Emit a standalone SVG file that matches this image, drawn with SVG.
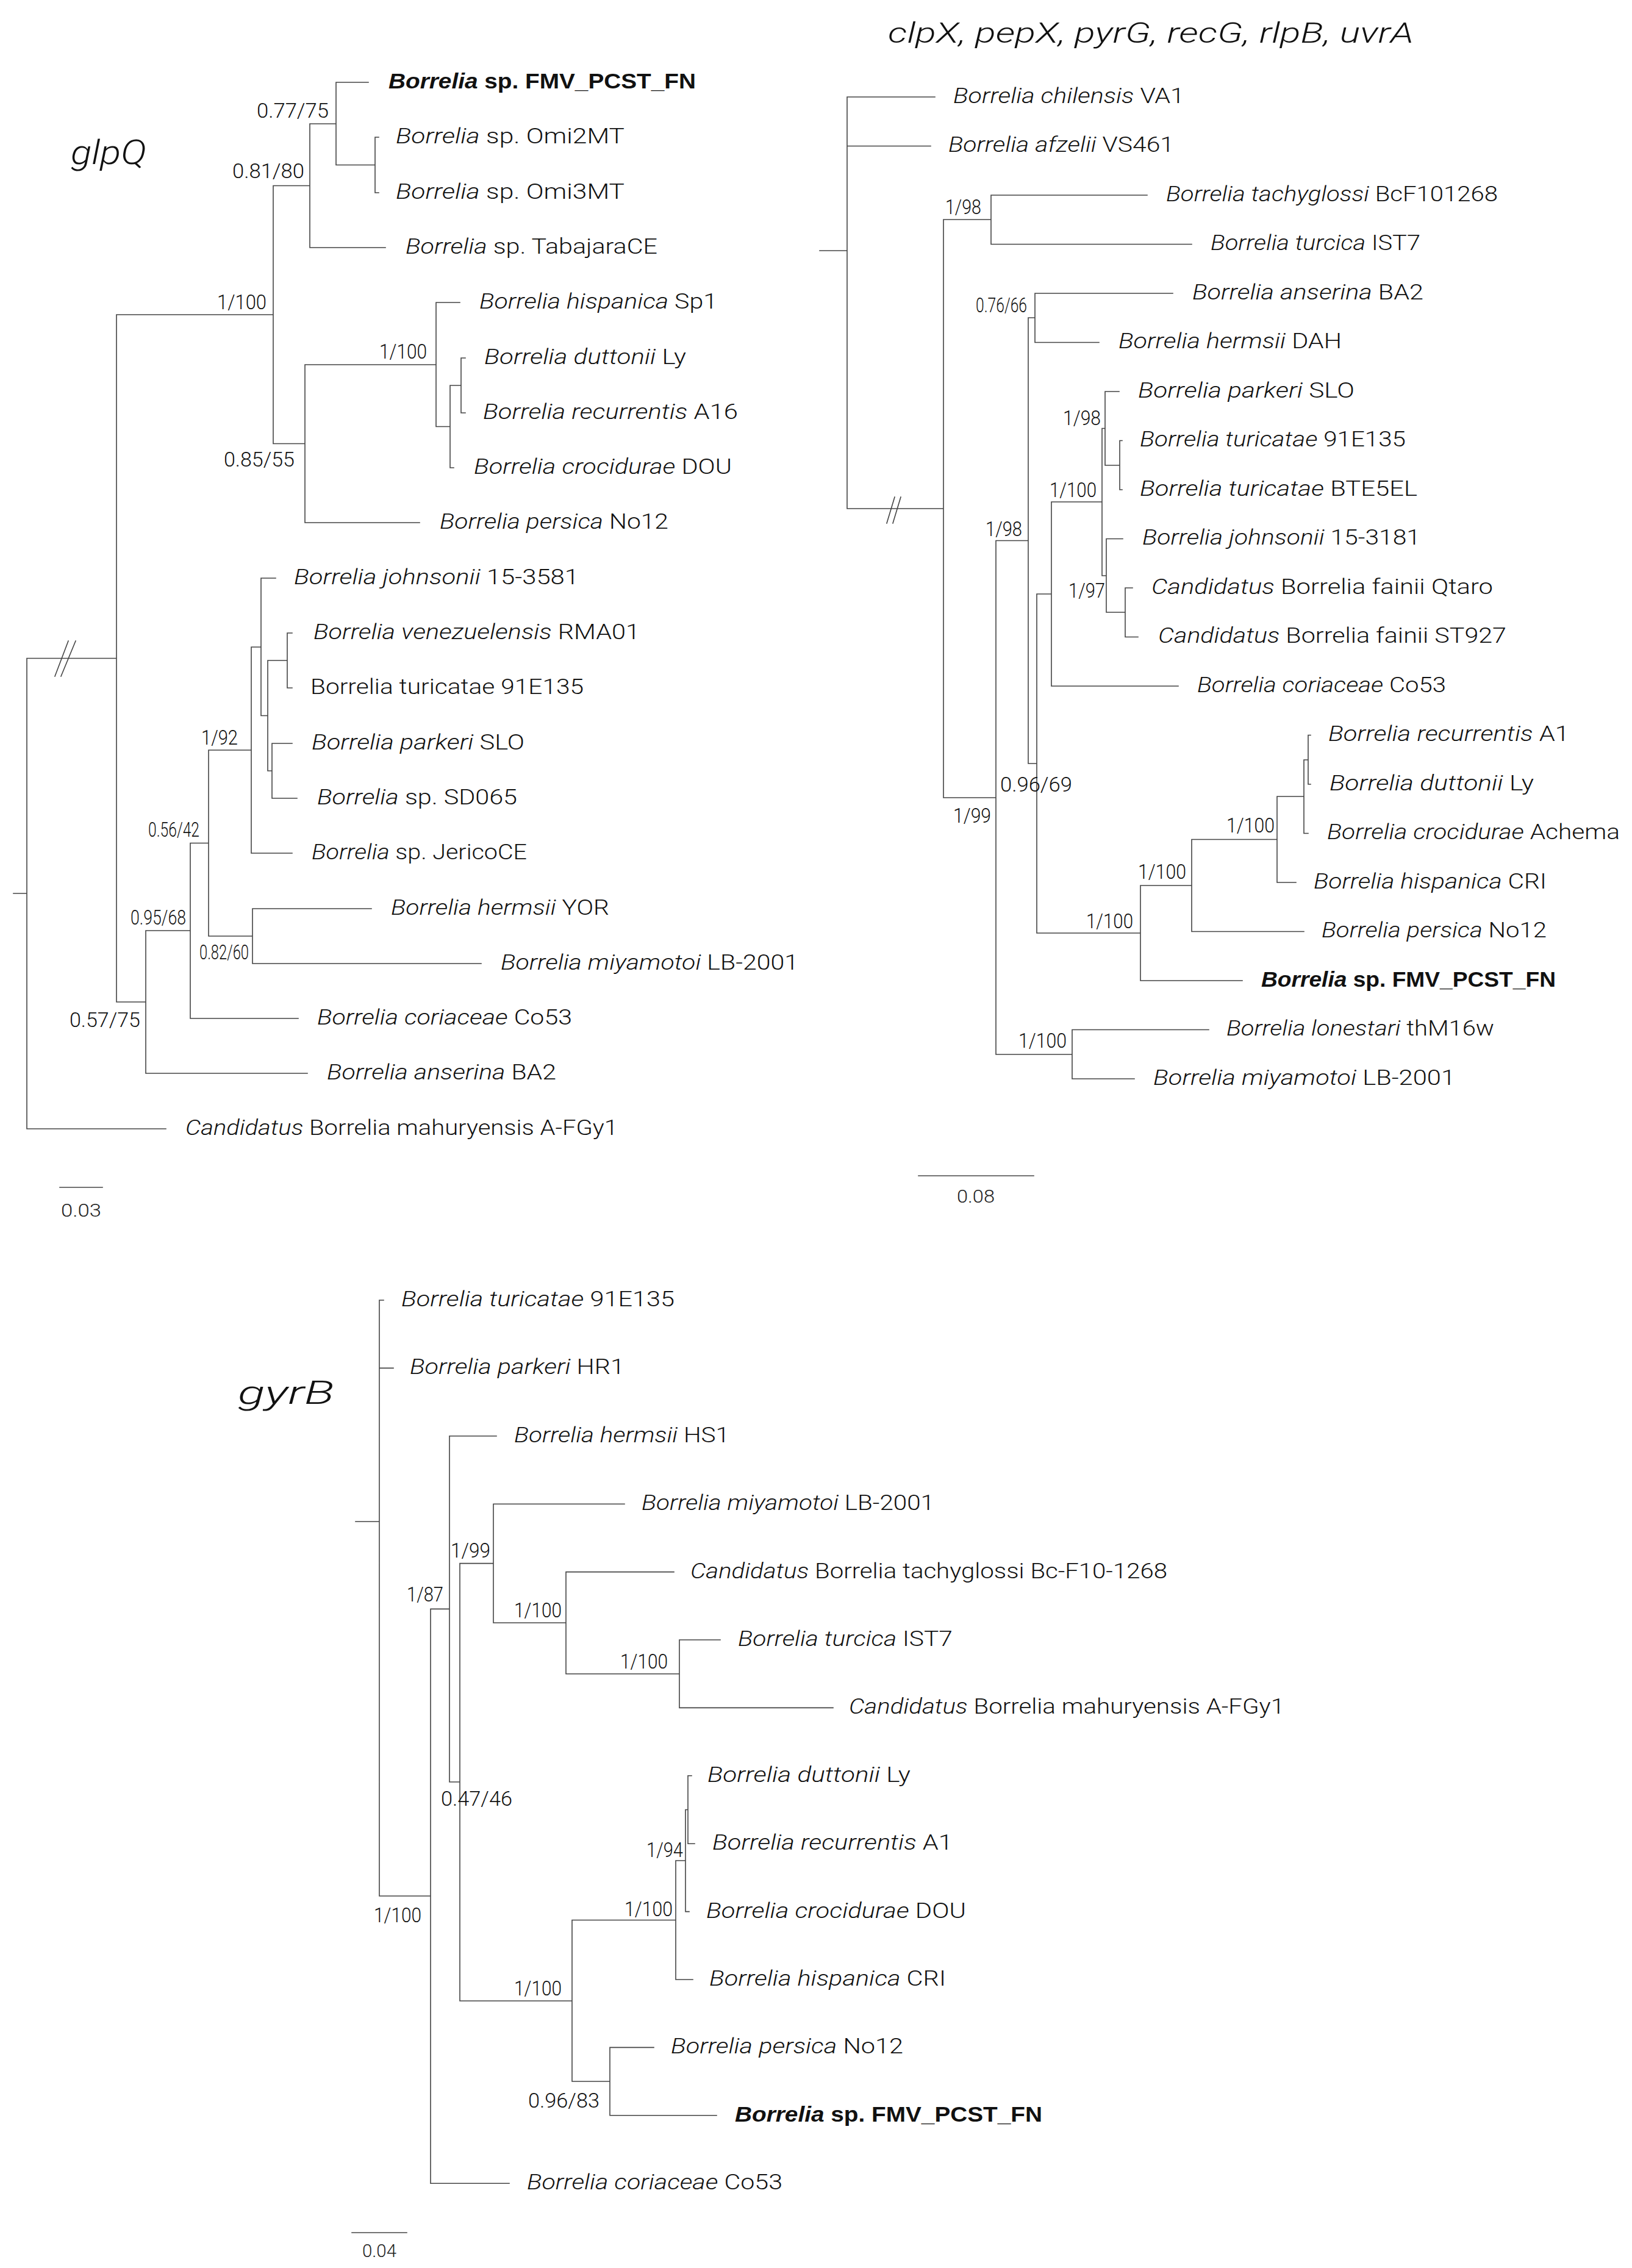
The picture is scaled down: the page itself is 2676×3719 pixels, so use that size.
<svg xmlns="http://www.w3.org/2000/svg" width="2676" height="3719" viewBox="0 0 2676 3719">
<style>
text{font-family:Roboto,"Liberation Sans",Arial,sans-serif;font-weight:300;fill:#111}
.l{font-size:35px}
.i{font-style:italic}
.b{font-family:"Liberation Sans",Arial,sans-serif;font-weight:bold}
.s{font-size:33px;fill:#222}
.k{font-size:30px;fill:#222}
.t{font-style:italic}
.br{fill:none;stroke:#444;stroke-width:1.6;stroke-linecap:square}
</style>
<rect width="2676" height="3719" fill="#fff"/>
<g id="connectors" class="br">
<path id="glpQ-branches" d="M22 1465H44M44 1079.5V1851M44 1851H272M44 1079.5H191M191 516V1643M191 516H448M448 304.5V727.5M448 304.5H508M508 203V406M508 406H632M508 203H551M551 135V270.5M551 135H604M551 270.5H615M615 225V316M615 225H621M615 316H621M448 727.5H500M500 598V857M500 857H688M500 598H715M715 496V699.5M715 496H754M715 699.5H738M738 632V767M738 767H744M738 632H756M756 587V677M756 587H763M756 677H763M191 1643H239M239 1526V1760M239 1760H504M239 1526H312M312 1382.5V1670M312 1670H489M312 1382.5H342M342 1230V1535M342 1535H414M414 1490V1580M414 1490H609M414 1580H789M342 1230H412M412 1061V1399M412 1399H479M412 1061H428M428 948V1173.5M428 948H452M428 1173.5H439M439 1083V1264M439 1083H471M471 1038V1128M471 1038H479M471 1128H479M439 1264H446M446 1219V1309M446 1219H479M446 1309H487"/>
<path id="glpQ-break" d="M90 1109L112 1051M100 1109L124 1051"/>
<path id="glpQ-scale" d="M98 1947H168"/>
<path id="multi-branches" d="M1344 411H1389M1389 159V834M1389 159H1533M1389 239.5H1526M1389 834H1547M1547 360V1308M1547 360H1625M1625 320V400.5M1625 320H1881M1625 400.5H1954M1547 1308H1633M1633 886.5V1729M1633 886.5H1686M1686 521V1252M1686 521H1697M1697 481V561.5M1697 481H1923M1697 561.5H1802M1686 1252H1700M1700 974V1530M1700 974H1724M1724 823V1125M1724 1125H1932M1724 823H1807M1807 702.5V944M1807 702.5H1812M1812 642V763M1812 642H1835M1812 763H1836M1836 722.5V803M1836 722.5H1840M1836 803H1840M1807 944H1814M1814 883.5V1004M1814 883.5H1841M1814 1004H1845M1845 964V1044.5M1845 964H1857M1845 1044.5H1866M1700 1530H1870M1870 1452V1608M1870 1608H2037M1870 1452H1954M1954 1376.5V1527.5M1954 1527.5H2138M1954 1376.5H2094M2094 1306V1447M2094 1447H2125M2094 1306H2138M2138 1246V1366.5M2138 1366.5H2145M2138 1246H2145M2145 1205.5V1286M2145 1205.5H2149M2145 1286H2149M1633 1729H1758M1758 1688.5V1769M1758 1688.5H1982M1758 1769H1860"/>
<path id="multi-break" d="M1454 858L1467 815M1464 858L1477 815"/>
<path id="multi-scale" d="M1506 1928H1695"/>
<path id="gyrB-branches" d="M583 2495H622M622 2132V3109M622 2132H629M622 2243.4H645M622 3109H706M706 2638.4V3580.2M706 3580.2H835M706 2638.4H737M737 2354.8V2922M737 2354.8H814M737 2922H754M754 2563.6V3281M754 2563.6H809M809 2466.2V2661M809 2466.2H1024M809 2661H928M928 2577.6V2744.7M928 2577.6H1105M928 2744.7H1114M1114 2689V2800.4M1114 2689H1181M1114 2800.4H1366M754 3281H938M938 3148.5V3413M938 3148.5H1108M1108 3051V3246M1108 3246H1136M1108 3051H1124M1124 2967.5V3134.6M1124 3134.6H1130M1124 2967.5H1128M1128 2911.8V3023.2M1128 2911.8H1134M1128 3023.2H1139M938 3413H1000M1000 3357.4V3468.8M1000 3357.4H1072M1000 3468.8H1175"/>
<path id="gyrB-scale" d="M577 3661H667"/>
</g>

<g id="titles">
<text class="t" x="116" y="269" font-size="55" textLength="124" lengthAdjust="spacingAndGlyphs">glpQ</text>
<text class="t" x="1456" y="70" font-size="47" textLength="862" lengthAdjust="spacingAndGlyphs">clpX, pepX, pyrG, recG, rlpB, uvrA</text>
<text class="t" x="390" y="2302" font-size="54" textLength="158" lengthAdjust="spacingAndGlyphs">gyrB</text>
</g>

<g id="glpQ-leaves" class="l">
<g id="g1"><text x="637" y="145" textLength="504" lengthAdjust="spacingAndGlyphs" class="b"><tspan class="i">Borrelia</tspan> sp. FMV_PCST_FN</text></g>
<g id="g2"><text x="649" y="235" textLength="375" lengthAdjust="spacingAndGlyphs"><tspan class="i">Borrelia</tspan> sp. Omi2MT</text></g>
<g id="g3"><text x="649" y="326" textLength="375" lengthAdjust="spacingAndGlyphs"><tspan class="i">Borrelia</tspan> sp. Omi3MT</text></g>
<g id="g4"><text x="665" y="416" textLength="413" lengthAdjust="spacingAndGlyphs"><tspan class="i">Borrelia</tspan> sp. TabajaraCE</text></g>
<g id="g5"><text x="786" y="506" textLength="390" lengthAdjust="spacingAndGlyphs"><tspan class="i">Borrelia hispanica</tspan> Sp1</text></g>
<g id="g6"><text x="794" y="597" textLength="331" lengthAdjust="spacingAndGlyphs"><tspan class="i">Borrelia duttonii</tspan> Ly</text></g>
<g id="g7"><text x="792" y="687" textLength="418" lengthAdjust="spacingAndGlyphs"><tspan class="i">Borrelia recurrentis</tspan> A16</text></g>
<g id="g8"><text x="777" y="777" textLength="423" lengthAdjust="spacingAndGlyphs"><tspan class="i">Borrelia crocidurae</tspan> DOU</text></g>
<g id="g9"><text x="721" y="867" textLength="375" lengthAdjust="spacingAndGlyphs"><tspan class="i">Borrelia persica</tspan> No12</text></g>
<g id="g10"><text x="482" y="958" textLength="467" lengthAdjust="spacingAndGlyphs"><tspan class="i">Borrelia johnsonii</tspan> 15-3581</text></g>
<g id="g11"><text x="514" y="1048" textLength="535" lengthAdjust="spacingAndGlyphs"><tspan class="i">Borrelia venezuelensis</tspan> RMA01</text></g>
<g id="g12"><text x="509" y="1138" textLength="448" lengthAdjust="spacingAndGlyphs">Borrelia turicatae 91E135</text></g>
<g id="g13"><text x="511" y="1229" textLength="349" lengthAdjust="spacingAndGlyphs"><tspan class="i">Borrelia parkeri</tspan> SLO</text></g>
<g id="g14"><text x="520" y="1319" textLength="328" lengthAdjust="spacingAndGlyphs"><tspan class="i">Borrelia</tspan> sp. SD065</text></g>
<g id="g15"><text x="511" y="1409" textLength="353" lengthAdjust="spacingAndGlyphs"><tspan class="i">Borrelia</tspan> sp. JericoCE</text></g>
<g id="g16"><text x="641" y="1500" textLength="358" lengthAdjust="spacingAndGlyphs"><tspan class="i">Borrelia hermsii</tspan> YOR</text></g>
<g id="g17"><text x="821" y="1590" textLength="488" lengthAdjust="spacingAndGlyphs"><tspan class="i">Borrelia miyamotoi</tspan> LB-2001</text></g>
<g id="g18"><text x="520" y="1680" textLength="418" lengthAdjust="spacingAndGlyphs"><tspan class="i">Borrelia coriaceae</tspan> Co53</text></g>
<g id="g19"><text x="536" y="1770" textLength="376" lengthAdjust="spacingAndGlyphs"><tspan class="i">Borrelia anserina</tspan> BA2</text></g>
<g id="g20"><text x="304" y="1861" textLength="709" lengthAdjust="spacingAndGlyphs"><tspan class="i">Candidatus</tspan> Borrelia mahuryensis A-FGy1</text></g>
</g>

<g id="glpQ-support" class="s">
<text x="421" y="193" textLength="118" lengthAdjust="spacingAndGlyphs">0.77/75</text>
<text x="381" y="292" textLength="118" lengthAdjust="spacingAndGlyphs">0.81/80</text>
<text x="356" y="507" textLength="81" lengthAdjust="spacingAndGlyphs">1/100</text>
<text x="622" y="588" textLength="78" lengthAdjust="spacingAndGlyphs">1/100</text>
<text x="367" y="765" textLength="116" lengthAdjust="spacingAndGlyphs">0.85/55</text>
<text x="330" y="1221" textLength="60" lengthAdjust="spacingAndGlyphs">1/92</text>
<text x="243" y="1372" textLength="84" lengthAdjust="spacingAndGlyphs">0.56/42</text>
<text x="214" y="1516" textLength="91" lengthAdjust="spacingAndGlyphs">0.95/68</text>
<text x="327" y="1573" textLength="81" lengthAdjust="spacingAndGlyphs">0.82/60</text>
<text x="114" y="1684" textLength="116" lengthAdjust="spacingAndGlyphs">0.57/75</text>
<text class="k" x="100" y="1995" textLength="66" lengthAdjust="spacingAndGlyphs">0.03</text>
</g>

<g id="multi-leaves" class="l">
<g id="m1"><text x="1563" y="169" textLength="379" lengthAdjust="spacingAndGlyphs"><tspan class="i">Borrelia chilensis</tspan> VA1</text></g>
<g id="m2"><text x="1555" y="249" textLength="370" lengthAdjust="spacingAndGlyphs"><tspan class="i">Borrelia afzelii</tspan> VS461</text></g>
<g id="m3"><text x="1912" y="330" textLength="544" lengthAdjust="spacingAndGlyphs"><tspan class="i">Borrelia tachyglossi</tspan> BcF101268</text></g>
<g id="m4"><text x="1985" y="410" textLength="344" lengthAdjust="spacingAndGlyphs"><tspan class="i">Borrelia turcica</tspan> IST7</text></g>
<g id="m5"><text x="1955" y="491" textLength="379" lengthAdjust="spacingAndGlyphs"><tspan class="i">Borrelia anserina</tspan> BA2</text></g>
<g id="m6"><text x="1834" y="571" textLength="366" lengthAdjust="spacingAndGlyphs"><tspan class="i">Borrelia hermsii</tspan> DAH</text></g>
<g id="m7"><text x="1866" y="652" textLength="355" lengthAdjust="spacingAndGlyphs"><tspan class="i">Borrelia parkeri</tspan> SLO</text></g>
<g id="m8"><text x="1869" y="732" textLength="436" lengthAdjust="spacingAndGlyphs"><tspan class="i">Borrelia turicatae</tspan> 91E135</text></g>
<g id="m9"><text x="1869" y="813" textLength="455" lengthAdjust="spacingAndGlyphs"><tspan class="i">Borrelia turicatae</tspan> BTE5EL</text></g>
<g id="m10"><text x="1873" y="893" textLength="456" lengthAdjust="spacingAndGlyphs"><tspan class="i">Borrelia johnsonii</tspan> 15-3181</text></g>
<g id="m11"><text x="1888" y="974" textLength="560" lengthAdjust="spacingAndGlyphs"><tspan class="i">Candidatus</tspan> Borrelia fainii Qtaro</text></g>
<g id="m12"><text x="1899" y="1054" textLength="571" lengthAdjust="spacingAndGlyphs"><tspan class="i">Candidatus</tspan> Borrelia fainii ST927</text></g>
<g id="m13"><text x="1963" y="1135" textLength="408" lengthAdjust="spacingAndGlyphs"><tspan class="i">Borrelia coriaceae</tspan> Co53</text></g>
<g id="m14"><text x="2178" y="1215" textLength="395" lengthAdjust="spacingAndGlyphs"><tspan class="i">Borrelia recurrentis</tspan> A1</text></g>
<g id="m15"><text x="2180" y="1296" textLength="335" lengthAdjust="spacingAndGlyphs"><tspan class="i">Borrelia duttonii</tspan> Ly</text></g>
<g id="m16"><text x="2176" y="1376" textLength="480" lengthAdjust="spacingAndGlyphs"><tspan class="i">Borrelia crocidurae</tspan> Achema</text></g>
<g id="m17"><text x="2154" y="1457" textLength="382" lengthAdjust="spacingAndGlyphs"><tspan class="i">Borrelia hispanica</tspan> CRI</text></g>
<g id="m18"><text x="2167" y="1537" textLength="369" lengthAdjust="spacingAndGlyphs"><tspan class="i">Borrelia persica</tspan> No12</text></g>
<g id="m19"><text x="2068" y="1618" textLength="483" lengthAdjust="spacingAndGlyphs" class="b"><tspan class="i">Borrelia</tspan> sp. FMV_PCST_FN</text></g>
<g id="m20"><text x="2011" y="1698" textLength="439" lengthAdjust="spacingAndGlyphs"><tspan class="i">Borrelia lonestari</tspan> thM16w</text></g>
<g id="m21"><text x="1891" y="1779" textLength="495" lengthAdjust="spacingAndGlyphs"><tspan class="i">Borrelia miyamotoi</tspan> LB-2001</text></g>
</g>

<g id="multi-support" class="s">
<text x="1550" y="351" textLength="59" lengthAdjust="spacingAndGlyphs">1/98</text>
<text x="1600" y="512" textLength="84" lengthAdjust="spacingAndGlyphs">0.76/66</text>
<text x="1743" y="697" textLength="62" lengthAdjust="spacingAndGlyphs">1/98</text>
<text x="1721" y="815" textLength="77" lengthAdjust="spacingAndGlyphs">1/100</text>
<text x="1616" y="879" textLength="60" lengthAdjust="spacingAndGlyphs">1/98</text>
<text x="1752" y="980" textLength="60" lengthAdjust="spacingAndGlyphs">1/97</text>
<text x="1640" y="1298" textLength="118" lengthAdjust="spacingAndGlyphs">0.96/69</text>
<text x="1563" y="1349" textLength="62" lengthAdjust="spacingAndGlyphs">1/99</text>
<text x="2011" y="1365" textLength="79" lengthAdjust="spacingAndGlyphs">1/100</text>
<text x="1866" y="1441" textLength="79" lengthAdjust="spacingAndGlyphs">1/100</text>
<text x="1781" y="1522" textLength="77" lengthAdjust="spacingAndGlyphs">1/100</text>
<text x="1670" y="1718" textLength="79" lengthAdjust="spacingAndGlyphs">1/100</text>
<text class="k" x="1569" y="1972" textLength="62" lengthAdjust="spacingAndGlyphs">0.08</text>
</g>

<g id="gyrB-leaves" class="l">
<g id="y1"><text x="658" y="2142" textLength="448" lengthAdjust="spacingAndGlyphs"><tspan class="i">Borrelia turicatae</tspan> 91E135</text></g>
<g id="y2"><text x="672" y="2253" textLength="352" lengthAdjust="spacingAndGlyphs"><tspan class="i">Borrelia parkeri</tspan> HR1</text></g>
<g id="y3"><text x="843" y="2365" textLength="353" lengthAdjust="spacingAndGlyphs"><tspan class="i">Borrelia hermsii</tspan> HS1</text></g>
<g id="y4"><text x="1052" y="2476" textLength="480" lengthAdjust="spacingAndGlyphs"><tspan class="i">Borrelia miyamotoi</tspan> LB-2001</text></g>
<g id="y5"><text x="1132" y="2588" textLength="782" lengthAdjust="spacingAndGlyphs"><tspan class="i">Candidatus</tspan> Borrelia tachyglossi Bc-F10-1268</text></g>
<g id="y6"><text x="1210" y="2699" textLength="352" lengthAdjust="spacingAndGlyphs"><tspan class="i">Borrelia turcica</tspan> IST7</text></g>
<g id="y7"><text x="1392" y="2810" textLength="714" lengthAdjust="spacingAndGlyphs"><tspan class="i">Candidatus</tspan> Borrelia mahuryensis A-FGy1</text></g>
<g id="y8"><text x="1160" y="2922" textLength="333" lengthAdjust="spacingAndGlyphs"><tspan class="i">Borrelia duttonii</tspan> Ly</text></g>
<g id="y9"><text x="1168" y="3033" textLength="394" lengthAdjust="spacingAndGlyphs"><tspan class="i">Borrelia recurrentis</tspan> A1</text></g>
<g id="y10"><text x="1158" y="3145" textLength="426" lengthAdjust="spacingAndGlyphs"><tspan class="i">Borrelia crocidurae</tspan> DOU</text></g>
<g id="y11"><text x="1163" y="3256" textLength="388" lengthAdjust="spacingAndGlyphs"><tspan class="i">Borrelia hispanica</tspan> CRI</text></g>
<g id="y12"><text x="1100" y="3367" textLength="381" lengthAdjust="spacingAndGlyphs"><tspan class="i">Borrelia persica</tspan> No12</text></g>
<g id="y13"><text x="1205" y="3479" textLength="504" lengthAdjust="spacingAndGlyphs" class="b"><tspan class="i">Borrelia</tspan> sp. FMV_PCST_FN</text></g>
<g id="y14"><text x="864" y="3590" textLength="419" lengthAdjust="spacingAndGlyphs"><tspan class="i">Borrelia coriaceae</tspan> Co53</text></g>
</g>

<g id="gyrB-support" class="s">
<text x="667" y="2626" textLength="60" lengthAdjust="spacingAndGlyphs">1/87</text>
<text x="739" y="2554" textLength="65" lengthAdjust="spacingAndGlyphs">1/99</text>
<text x="843" y="2652" textLength="78" lengthAdjust="spacingAndGlyphs">1/100</text>
<text x="1017" y="2736" textLength="78" lengthAdjust="spacingAndGlyphs">1/100</text>
<text x="723" y="2961" textLength="117" lengthAdjust="spacingAndGlyphs">0.47/46</text>
<text x="613" y="3152" textLength="78" lengthAdjust="spacingAndGlyphs">1/100</text>
<text x="1060" y="3045" textLength="60" lengthAdjust="spacingAndGlyphs">1/94</text>
<text x="1024" y="3142" textLength="79" lengthAdjust="spacingAndGlyphs">1/100</text>
<text x="843" y="3272" textLength="78" lengthAdjust="spacingAndGlyphs">1/100</text>
<text x="866" y="3456" textLength="117" lengthAdjust="spacingAndGlyphs">0.96/83</text>
<text class="k" x="594" y="3701" textLength="56" lengthAdjust="spacingAndGlyphs">0.04</text>
</g>
</svg>
